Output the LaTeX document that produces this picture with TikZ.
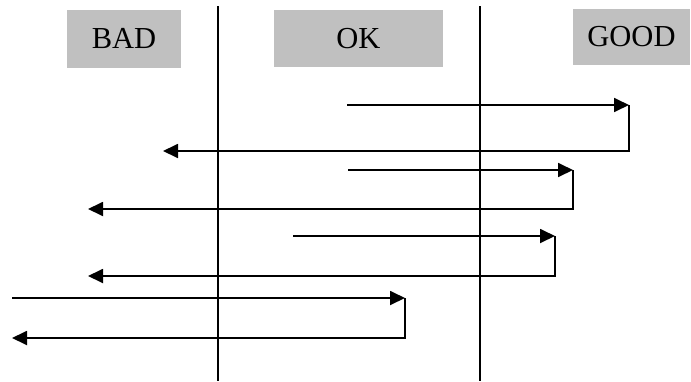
\documentclass[tikz,border=0pt]{standalone}
\usepackage{fontspec}
\setmainfont{Liberation Serif}
\usetikzlibrary{arrows.meta}
\definecolor{boxgray}{HTML}{C0C0C0}
\tikzset{
  label box/.style={fill=boxgray, draw=none, inner sep=0pt, font=\fontsize{30.5}{36}\selectfont},
  divider/.style={line width=1.5pt, black},
  flow/.style={line width=1.8pt, black, -{Triangle[length=15pt,width=14pt]}},
}
\begin{document}
\begin{tikzpicture}[x=1pt,y=-1pt]
\useasboundingbox (0,0) rectangle (691,381);
% header boxes
\node[label box, minimum width=114pt, minimum height=58pt] (bad) at (124,38.5) {BAD};
\node[label box, minimum width=169pt, minimum height=57pt] (ok) at (358.5,38.5) {OK};
\node[label box, minimum width=117pt, minimum height=56pt] (good) at (631.5,37) {GOOD};
% dividers
\coordinate (d1t) at (218,6); \coordinate (d1b) at (218,381);
\coordinate (d2t) at (480,6); \coordinate (d2b) at (480,381);
\draw[divider] (d1t) -- (d1b);
\draw[divider] (d2t) -- (d2b);
% arrow 1
\coordinate (s1) at (347,105); \coordinate (c1) at (629,105);
\coordinate (b1) at (629,151); \coordinate (e1) at (163,151);
\draw[flow] (s1) -- (c1);
\draw[flow] (c1) -- (b1) -- (e1);
% arrow 2
\coordinate (s2) at (348,170); \coordinate (c2) at (573,170);
\coordinate (b2) at (573,209); \coordinate (e2) at (88,209);
\draw[flow] (s2) -- (c2);
\draw[flow] (c2) -- (b2) -- (e2);
% arrow 3
\coordinate (s3) at (293,236); \coordinate (c3) at (555,236);
\coordinate (b3) at (555,276); \coordinate (e3) at (88,276);
\draw[flow] (s3) -- (c3);
\draw[flow] (c3) -- (b3) -- (e3);
% arrow 4
\coordinate (s4) at (12,298); \coordinate (c4) at (405,298);
\coordinate (b4) at (405,338); \coordinate (e4) at (12,338);
\draw[flow] (s4) -- (c4);
\draw[flow] (c4) -- (b4) -- (e4);
\end{tikzpicture}
\end{document}
